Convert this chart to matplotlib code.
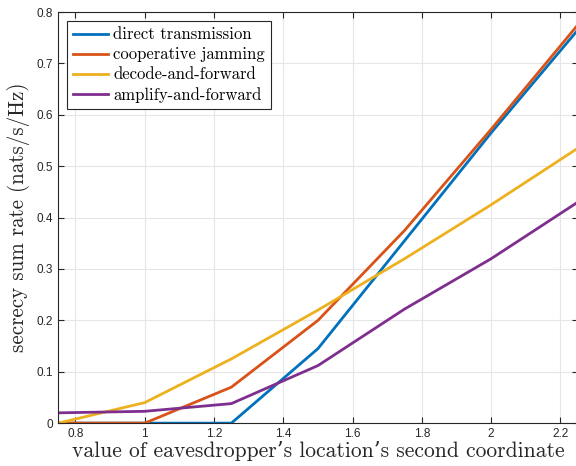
import numpy as np
import matplotlib
matplotlib.use('Agg')
import matplotlib.pyplot as plt

# eavesdropper location (second coordinate)
x = [0.75, 1.0, 1.25, 1.5, 1.75, 2.0, 2.25]
direct = [0.0, 0.0, 0.0, 0.145, 0.355, 0.565, 0.765]
coop = [0.0, 0.0, 0.07, 0.2, 0.375, 0.572, 0.775]
df = [0.0, 0.04, 0.125, 0.22, 0.32, 0.425, 0.535]
af = [0.02, 0.023, 0.038, 0.112, 0.222, 0.32, 0.43]
names = ['direct transmission', 'cooperative jamming', 'decode-and-forward', 'amplify-and-forward']
colors = ['#0072BD', '#D95319', '#EDB120', '#7E2F8E']

plt.rcParams['font.family'] = ['Liberation Sans', 'DejaVu Sans']
fig = plt.figure(figsize=(5.76, 4.66), dpi=100)
ax = fig.add_axes([0.101, 0.092, 0.902, 0.882])

for ys, nm, c in zip([direct, coop, df, af], names, colors):
    ax.plot(x, ys, color=c, lw=2, label=nm)

ax.set_xlim(0.75, 2.25)
ax.set_ylim(0, 0.8)
ax.set_xticks([0.8, 1, 1.2, 1.4, 1.6, 1.8, 2, 2.2])
ax.set_xticklabels(['0.8', '1', '1.2', '1.4', '1.6', '1.8', '2', '2.2'])
ax.set_yticks(np.arange(0, 0.81, 0.1))
ax.set_yticklabels(['0', '0.1', '0.2', '0.3', '0.4', '0.5', '0.6', '0.7', '0.8'])
ax.grid(True, color='#e6e6e6', lw=0.8)
ax.set_axisbelow(True)
ax.tick_params(direction='in', top=True, right=True, length=4, width=0.8,
               colors='#262626', labelsize=8.5)
for s in ax.spines.values():
    s.set_color('#262626')
    s.set_linewidth(0.8)

ax.set_xlabel("value of eavesdropper\u2019s location\u2019s second coordinate",
              family=['cmr10', 'DejaVu Serif'], fontsize=15.5, color='#262626', labelpad=1)
ax.set_ylabel('secrecy sum rate (nats/s/Hz)', family=['cmr10', 'DejaVu Serif'],
              fontsize=15.2, color='#262626', labelpad=5)

leg = ax.legend(loc='upper left', prop={'family': ['cmr10', 'DejaVu Serif'], 'size': 12},
                fancybox=False, framealpha=1, edgecolor='#262626', handlelength=2.1,
                handletextpad=0.3, borderaxespad=0.55, labelspacing=0.28, borderpad=0.35)
leg.get_frame().set_linewidth(0.8)

fig.savefig('out.png', dpi=100)
